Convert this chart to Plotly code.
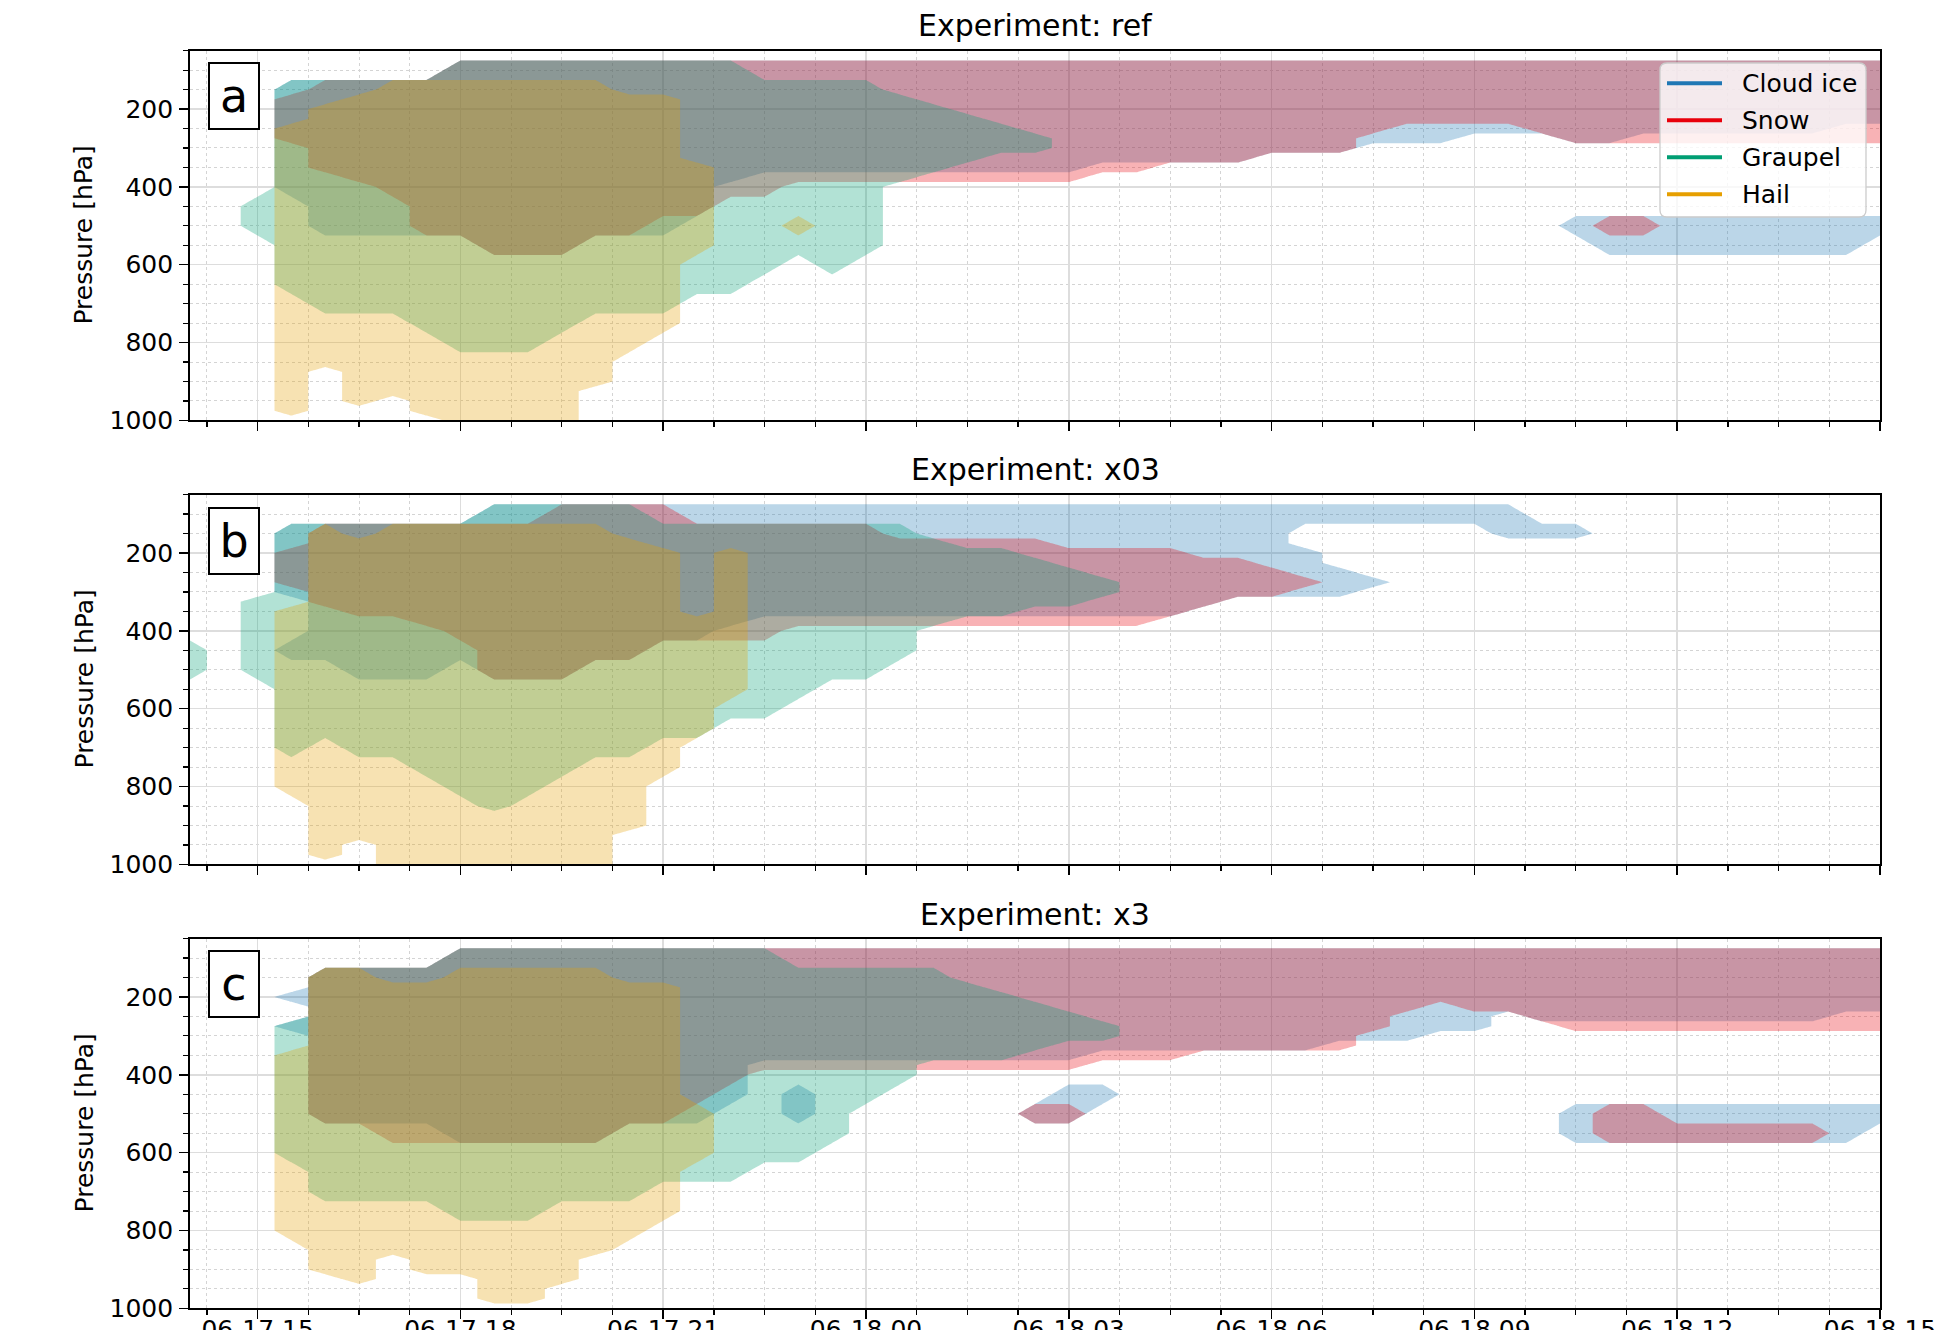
import datetime as dt
import plotly.graph_objects as go

# Target picture: 1939 x 1330. The photographed page maps a 1346 px tall figure onto the
# 1330 px picture, so the figure is 1346 px tall and every position below is given in
# picture pixels (paper fractions are taken relative to REF_H).
W, REF_H, FIG_H = 1939, 1330, 1346
FONT = "DejaVu Sans"
N = None

# ---------------- grid ----------------
TIMES = ["2021-06-17 14:00", "2021-06-17 14:30", "2021-06-17 15:00", "2021-06-17 15:30", "2021-06-17 16:00",
         "2021-06-17 16:30", "2021-06-17 17:00", "2021-06-17 17:30", "2021-06-17 18:00", "2021-06-17 18:30",
         "2021-06-17 19:00", "2021-06-17 19:30", "2021-06-17 20:00", "2021-06-17 20:30", "2021-06-17 21:00",
         "2021-06-17 21:30", "2021-06-17 22:00", "2021-06-17 22:30", "2021-06-17 23:00", "2021-06-17 23:30",
         "2021-06-18 00:00", "2021-06-18 00:30", "2021-06-18 01:00", "2021-06-18 01:30", "2021-06-18 02:00",
         "2021-06-18 02:30", "2021-06-18 03:00", "2021-06-18 03:30", "2021-06-18 04:00", "2021-06-18 04:30",
         "2021-06-18 05:00", "2021-06-18 05:30", "2021-06-18 06:00", "2021-06-18 06:30", "2021-06-18 07:00",
         "2021-06-18 07:30", "2021-06-18 08:00", "2021-06-18 08:30", "2021-06-18 09:00", "2021-06-18 09:30",
         "2021-06-18 10:00", "2021-06-18 10:30", "2021-06-18 11:00", "2021-06-18 11:30", "2021-06-18 12:00",
         "2021-06-18 12:30", "2021-06-18 13:00", "2021-06-18 13:30", "2021-06-18 14:00", "2021-06-18 14:30",
         "2021-06-18 15:00"]
LEVELS = [50, 100, 150, 175, 200, 225, 250, 275, 300, 325, 350, 375, 400, 450, 500, 550, 600, 650,
          700, 750, 800, 850, 875, 900, 925, 950, 975, 1000]
TICK_TIMES = ["2021-06-17 15:00", "2021-06-17 18:00", "2021-06-17 21:00", "2021-06-18 00:00",
              "2021-06-18 03:00", "2021-06-18 06:00", "2021-06-18 09:00", "2021-06-18 12:00",
              "2021-06-18 15:00"]
TICK_LABELS = ["06-17 15", "06-17 18", "06-17 21", "06-18 00", "06-18 03", "06-18 06", "06-18 09",
               "06-18 12", "06-18 15"]

# ---------------- Experiment: ref ----------------
ref_ice_top = [N, N, N, 150, 150, 150, 150, 150, 100, 100,
               100, 100, 100, 100, 100, 100, 100, 100, 100, 100,
               100, 100, 100, 100, 100, 100, 100, 100, 100, 100,
               100, 100, 100, 100, 100, 100, 100, 100, 100, 100,
               100, 100, 100, 100, 100, 100, 100, 100, 100, 100, 100]
ref_ice_base = [N, N, N, 400, 500, 500, 500, 500, 500, 550,
                550, 550, 500, 500, 500, 450, 375, 350, 350, 350,
                350, 350, 350, 350, 350, 350, 350, 325, 325, 325,
                325, 325, 300, 300, 300, 275, 275, 275, 250, 250,
                250, 275, 275, 250, 250, 250, 250, 250, 250, 225, 225]
ref_ice_extra = [(41, 500, 500), (42, 500, 550), (43, 500, 550), (44, 500, 550), (45, 500, 550),
                 (46, 500, 550), (47, 500, 550), (48, 500, 550), (49, 500, 550), (50, 500, 500)]
ref_snow_top = [N, N, N, 175, 150, 150, 150, 150, 100, 100,
                100, 100, 100, 100, 100, 100, 100, 100, 100, 100,
                100, 100, 100, 100, 100, 100, 100, 100, 100, 100,
                100, 100, 100, 100, 100, 100, 100, 100, 100, 100,
                100, 100, 100, 100, 100, 100, 100, 100, 100, 100, 100]
ref_snow_base = [N, N, N, 275, 350, 375, 400, 500, 500, 550,
                 550, 550, 500, 500, 450, 450, 400, 400, 375, 375,
                 375, 375, 375, 375, 375, 375, 375, 350, 350, 325,
                 325, 325, 300, 300, 300, 250, 225, 225, 225, 225,
                 250, 275, 275, 275, 275, 275, 275, 275, 275, 275, 275]
ref_snow_extra = [(42, 500, 500), (43, 500, 500)]
ref_graupel_top = [N, N, 450, 150, 150, 150, 150, 150, 100, 100,
                   100, 100, 100, 100, 100, 100, 100, 150, 150, 150,
                   150, 175, 200, 225, 250, 275, N, N, N, N,
                   N, N, N, N, N, N, N, N, N, N,
                   N, N, N, N, N, N, N, N, N, N, N]
ref_graupel_base = [N, N, 500, 650, 700, 700, 700, 750, 800, 800,
                    800, 750, 700, 700, 700, 650, 650, 600, 550, 600,
                    550, 375, 350, 325, 300, 300, N, N, N, N,
                    N, N, N, N, N, N, N, N, N, N,
                    N, N, N, N, N, N, N, N, N, N, N]
ref_graupel_extra = []
ref_hail_top = [N, N, N, 250, 200, 175, 150, 150, 150, 150,
                150, 150, 150, 175, 175, 350, N, N, N, N,
                N, N, N, N, N, N, N, N, N, N,
                N, N, N, N, N, N, N, N, N, N,
                N, N, N, N, N, N, N, N, N, N, N]
ref_hail_base = [N, N, N, 975, 850, 950, 925, 975, 1000, 1000,
                 1000, 1000, 900, 800, 750, 550, N, N, N, N,
                 N, N, N, N, N, N, N, N, N, N,
                 N, N, N, N, N, N, N, N, N, N,
                 N, N, N, N, N, N, N, N, N, N, N]
ref_hail_extra = [(18, 500, 500)]

# ---------------- Experiment: x03 ----------------
x03_ice_top = [N, N, N, 150, 150, 150, 150, 150, 150, 100,
               100, 100, 100, 100, 100, 100, 100, 100, 100, 100,
               100, 100, 100, 100, 100, 100, 100, 100, 100, 100,
               100, 100, 100, 100, 100, 100, 100, 100, 100, 100,
               150, 150, N, N, N, N, N, N, N, N, N]
x03_ice_base = [N, N, N, 300, 450, 500, 500, 500, 450, 500,
                500, 500, 450, 450, 400, 400, 375, 350, 350, 350,
                350, 350, 350, 350, 350, 350, 350, 350, 350, 350,
                325, 300, 300, 100, 100, 100, 100, 100, 100, 150,
                150, 150, N, N, N, N, N, N, N, N, N]
x03_ice_extra = [(3, 450, 450), (33, 200, 300), (34, 250, 300), (35, 275, 275)]
x03_snow_top = [N, N, N, 200, 150, 150, 150, 150, 150, 150,
                150, 100, 100, 100, 100, 150, 150, 150, 150, 150,
                150, 175, 175, 175, 175, 175, 200, 200, 200, 200,
                225, 225, 250, 275, N, N, N, N, N, N,
                N, N, N, N, N, N, N, N, N, N, N]
x03_snow_base = [N, N, N, 275, 325, 350, 350, 375, 400, 500,
                 500, 500, 450, 450, 400, 400, 400, 400, 375, 375,
                 375, 375, 375, 375, 375, 375, 375, 375, 375, 350,
                 325, 300, 300, 275, N, N, N, N, N, N,
                 N, N, N, N, N, N, N, N, N, N, N]
x03_snow_extra = []
x03_graupel_top = [450, N, 325, 150, 150, 150, 150, 150, 150, 100,
                   100, 100, 100, 100, 150, 150, 150, 150, 150, 150,
                   150, 150, 175, 200, 200, 225, 250, 275, N, N,
                   N, N, N, N, N, N, N, N, N, N,
                   N, N, N, N, N, N, N, N, N, N, N]
x03_graupel_base = [500, N, 500, 700, 650, 700, 700, 750, 800, 850,
                    800, 750, 700, 700, 650, 650, 600, 600, 550, 500,
                    500, 450, 375, 350, 350, 325, 325, 300, N, N,
                    N, N, N, N, N, N, N, N, N, N,
                    N, N, N, N, N, N, N, N, N, N, N]
x03_graupel_extra = []
x03_hail_top = [N, N, N, 350, 150, 175, 150, 150, 150, 150,
                150, 150, 150, 175, 200, 375, 200, N, N, N,
                N, N, N, N, N, N, N, N, N, N,
                N, N, N, N, N, N, N, N, N, N,
                N, N, N, N, N, N, N, N, N, N, N]
x03_hail_base = [N, N, N, 800, 975, 925, 1000, 1000, 1000, 1000,
                 1000, 1000, 1000, 900, 750, 650, 550, N, N, N,
                 N, N, N, N, N, N, N, N, N, N,
                 N, N, N, N, N, N, N, N, N, N,
                 N, N, N, N, N, N, N, N, N, N, N]
x03_hail_extra = []

# ---------------- Experiment: x3 ----------------
x3_ice_top = [N, N, N, 200, 150, 150, 150, 150, 100, 100,
              100, 100, 100, 100, 100, 100, 100, 100, 100, 100,
              100, 100, 100, 100, 100, 100, 100, 100, 100, 100,
              100, 100, 100, 100, 100, 100, 100, 100, 100, 100,
              100, 100, 100, 100, 100, 100, 100, 100, 100, 100, 100]
x3_ice_base = [N, N, N, 200, 500, 500, 500, 500, 550, 550,
               550, 550, 550, 500, 500, 500, 450, 350, 350, 350,
               350, 350, 350, 350, 350, 350, 350, 325, 325, 325,
               325, 325, 325, 325, 300, 300, 300, 275, 275, 225,
               250, 250, 250, 250, 250, 250, 250, 250, 250, 225, 225]
x3_ice_extra = [(3, 275, 275), (18, 450, 500), (25, 500, 500), (26, 450, 500), (27, 450, 450),
                (41, 500, 550), (42, 500, 550), (43, 500, 550), (44, 500, 550), (45, 500, 550),
                (46, 500, 550), (47, 500, 550), (48, 500, 550), (49, 500, 550), (50, 500, 500)]
x3_snow_top = [N, N, N, N, 150, 150, 150, 150, 100, 100,
               100, 100, 100, 100, 100, 100, 100, 100, 100, 100,
               100, 100, 100, 100, 100, 100, 100, 100, 100, 100,
               100, 100, 100, 100, 100, 100, 100, 100, 100, 100,
               100, 100, 100, 100, 100, 100, 100, 100, 100, 100, 100]
x3_snow_base = [N, N, N, N, 500, 500, 550, 550, 550, 550,
                550, 550, 550, 500, 500, 450, 400, 375, 375, 375,
                375, 375, 375, 375, 375, 375, 375, 350, 350, 350,
                325, 325, 325, 325, 325, 275, 225, 200, 225, 225,
                250, 275, 275, 275, 275, 275, 275, 275, 275, 275, 275]
x3_snow_extra = [(25, 500, 500), (26, 500, 500), (42, 500, 550), (43, 500, 550), (44, 550, 550),
                 (45, 550, 550), (46, 550, 550), (47, 550, 550), (48, 550, 550)]
x3_graupel_top = [N, N, N, 275, 150, 150, 150, 150, 100, 100,
                  100, 100, 100, 100, 100, 100, 100, 100, 150, 150,
                  150, 150, 150, 175, 200, 225, 250, 275, N, N,
                  N, N, N, N, N, N, N, N, N, N,
                  N, N, N, N, N, N, N, N, N, N, N]
x3_graupel_base = [N, N, N, 600, 700, 700, 700, 700, 750, 750,
                   750, 700, 700, 700, 650, 650, 650, 600, 600, 550,
                   450, 400, 350, 350, 350, 325, 300, 300, N, N,
                   N, N, N, N, N, N, N, N, N, N,
                   N, N, N, N, N, N, N, N, N, N, N]
x3_graupel_extra = []
x3_hail_top = [N, N, N, 350, 150, 150, 175, 175, 150, 150,
               150, 150, 150, 175, 175, 500, N, N, N, N,
               N, N, N, N, N, N, N, N, N, N,
               N, N, N, N, N, N, N, N, N, N,
               N, N, N, N, N, N, N, N, N, N, N]
x3_hail_base = [N, N, N, 800, 900, 925, 850, 900, 900, 975,
                975, 925, 850, 800, 750, 600, N, N, N, N,
                N, N, N, N, N, N, N, N, N, N,
                N, N, N, N, N, N, N, N, N, N,
                N, N, N, N, N, N, N, N, N, N, N]
x3_hail_extra = []

SPECIES = ["Cloud ice", "Snow", "Graupel", "Hail"]
COLORS = {"Cloud ice": (31, 119, 180), "Snow": (232, 0, 11), "Graupel": (0, 158, 115), "Hail": (230, 159, 0)}
ALPHA = 0.3

EXPERIMENTS = [
    ("ref", {"Cloud ice": (ref_ice_top, ref_ice_base, ref_ice_extra),
             "Snow": (ref_snow_top, ref_snow_base, ref_snow_extra),
             "Graupel": (ref_graupel_top, ref_graupel_base, ref_graupel_extra),
             "Hail": (ref_hail_top, ref_hail_base, ref_hail_extra)}),
    ("x03", {"Cloud ice": (x03_ice_top, x03_ice_base, x03_ice_extra),
             "Snow": (x03_snow_top, x03_snow_base, x03_snow_extra),
             "Graupel": (x03_graupel_top, x03_graupel_base, x03_graupel_extra),
             "Hail": (x03_hail_top, x03_hail_base, x03_hail_extra)}),
    ("x3", {"Cloud ice": (x3_ice_top, x3_ice_base, x3_ice_extra),
            "Snow": (x3_snow_top, x3_snow_base, x3_snow_extra),
            "Graupel": (x3_graupel_top, x3_graupel_base, x3_graupel_extra),
            "Hail": (x3_hail_top, x3_hail_base, x3_hail_extra)}),
]
PANEL_LETTERS = ["a", "b", "c"]


def build_mask(tops, bases, extra):
    z = [[0] * len(TIMES) for _ in LEVELS]
    layers = [(k, t, b) for k, (t, b) in enumerate(zip(tops, bases)) if t is not None]
    layers += list(extra)
    for k, t, b in layers:
        for j, p in enumerate(LEVELS):
            if t <= p <= b:
                z[j][k] = 1
    return z


def px(x):
    return x / W


def py(y):
    return 1 - y / REF_H


# ---------------- layout geometry (picture pixels) ----------------
X_LEFT, X_RIGHT = 190, 1880
PANELS_PX = [(50.7, 420.4), (494.6, 864.4), (938.6, 1308.3)]
TITLE_Y = [25, 470, 914]
BOX_TOP = [62, 507, 950]
T0 = dt.datetime(2021, 6, 17, 14, 0)
T1 = dt.datetime(2021, 6, 18, 15, 0)

fig = go.Figure()
annotations = []
shapes = []
layout_axes = {}

for i, (name, data) in enumerate(EXPERIMENTS):
    sfx = "" if i == 0 else str(i + 1)
    xa, ya = "x" + sfx, "y" + sfx
    for sp in SPECIES:
        tops, bases, extra = data[sp]
        r, g, b = COLORS[sp]
        # constraint contours shade the region violating the constraint -> '<' shades mask > 0.5
        fig.add_trace(go.Contour(
            x=TIMES, y=LEVELS, z=build_mask(tops, bases, extra),
            contours=dict(type="constraint", operation="<", value=0.5),
            fillcolor=f"rgba({r},{g},{b},{ALPHA})",
            line=dict(width=0, smoothing=0, color="rgba(0,0,0,0)"),
            showscale=False, hoverinfo="skip", showlegend=False,
            xaxis=xa, yaxis=ya))

    top_px, bot_px = PANELS_PX[i]
    dom_y = [py(bot_px), py(top_px)]
    layout_axes["xaxis" + sfx] = dict(
        domain=[px(X_LEFT), px(X_RIGHT)], anchor=ya, type="date",
        range=[T0.strftime("%Y-%m-%d %H:%M"), T1.strftime("%Y-%m-%d %H:%M")],
        tick0="2021-06-17 15:00", dtick=3 * 3600 * 1000, tickformat="%m-%d %H",
        showticklabels=False, ticks="outside", ticklen=9, tickwidth=1.5, tickcolor="black",
        showline=True, linecolor="black", linewidth=1.8, mirror=True,
        showgrid=True, gridcolor="#dddddd", gridwidth=1.5, zeroline=False,
        minor=dict(tick0="2021-06-17 14:15", dtick=45 * 60 * 1000, ticks="outside", ticklen=5,
                   tickwidth=1.2, tickcolor="black", showgrid=True, gridcolor="#d4d4d4",
                   griddash="dot", gridwidth=1),
        matches="x" if i > 0 else None)
    layout_axes["yaxis" + sfx] = dict(
        domain=dom_y, anchor=xa, range=[1000, 50],
        tick0=0, dtick=200, ticks="outside", ticklen=9, tickwidth=1.5, tickcolor="black",
        tickfont=dict(family=FONT, size=25, color="black"), ticklabelstandoff=1,
        showline=True, linecolor="black", linewidth=1.8, mirror=True,
        showgrid=True, gridcolor="#dddddd", gridwidth=1.5, zeroline=False,
        minor=dict(tick0=0, dtick=50, ticks="outside", ticklen=5, tickwidth=1.2, tickcolor="black",
                   showgrid=True, gridcolor="#d4d4d4", griddash="dot", gridwidth=1))

    annotations.append(dict(text=f"Experiment: {name}", x=px((X_LEFT + X_RIGHT) / 2), y=py(TITLE_Y[i]),
                            xref="paper", yref="paper", xanchor="center", yanchor="middle", showarrow=False,
                            font=dict(family=FONT, size=30, color="black")))
    annotations.append(dict(text="Pressure [hPa]", x=px(84), y=py((top_px + bot_px) / 2),
                            xref="paper", yref="paper", xanchor="center", yanchor="middle", showarrow=False,
                            textangle=-90, font=dict(family=FONT, size=25, color="black")))
    annotations.append(dict(text=PANEL_LETTERS[i], x=px(208), y=py(BOX_TOP[i]),
                            xref="paper", yref="paper", xanchor="left", yanchor="top", showarrow=False,
                            width=48, height=64, borderpad=0, bordercolor="black", borderwidth=2,
                            bgcolor="white", align="center", valign="middle",
                            font=dict(family=FONT, size=46, color="black")))

# ---------------- bottom time labels: text in a clipped strip subplot at the picture bottom,
# cut by the lower edge as in the reference ----------------
sec_per_px = (T1 - T0).total_seconds() / (X_RIGHT - X_LEFT)
strip_t0 = T0 - dt.timedelta(seconds=sec_per_px * X_LEFT)
strip_t1 = T1 + dt.timedelta(seconds=sec_per_px * (W - X_RIGHT))
fig.add_trace(go.Scatter(x=TICK_TIMES, y=[1331.5] * len(TICK_TIMES), mode="text", text=TICK_LABELS,
                         textposition="middle center", cliponaxis=True, hoverinfo="skip", showlegend=False,
                         textfont=dict(family=FONT, size=25, color="black"), xaxis="x4", yaxis="y4"))
layout_axes["xaxis4"] = dict(domain=[0, 1], anchor="y4", type="date", visible=False, fixedrange=True,
                             range=[strip_t0.strftime("%Y-%m-%d %H:%M:%S"), strip_t1.strftime("%Y-%m-%d %H:%M:%S")])
layout_axes["yaxis4"] = dict(domain=[0, py(1317)], anchor="x4", visible=False, fixedrange=True,
                             range=[REF_H, 1317])

# ---------------- legend (drawn as box + line samples + text) ----------------
LX0, LX1, LY0, LY1, RAD = 1660, 1866, 63, 217, 7
legend_path = (f"M {px(LX0 + RAD)},{py(LY0)} L {px(LX1 - RAD)},{py(LY0)} "
               f"Q {px(LX1)},{py(LY0)} {px(LX1)},{py(LY0 + RAD)} L {px(LX1)},{py(LY1 - RAD)} "
               f"Q {px(LX1)},{py(LY1)} {px(LX1 - RAD)},{py(LY1)} L {px(LX0 + RAD)},{py(LY1)} "
               f"Q {px(LX0)},{py(LY1)} {px(LX0)},{py(LY1 - RAD)} L {px(LX0)},{py(LY0 + RAD)} "
               f"Q {px(LX0)},{py(LY0)} {px(LX0 + RAD)},{py(LY0)} Z")
shapes.append(dict(type="path", path=legend_path, xref="paper", yref="paper", layer="above",
                   fillcolor="rgba(255,255,255,0.8)", line=dict(color="#cccccc", width=1.3)))
ROW_Y = [83.3, 120.3, 157.3, 194.3]
for sp, yy in zip(SPECIES, ROW_Y):
    r, g, b = COLORS[sp]
    shapes.append(dict(type="line", xref="paper", yref="paper", layer="above",
                       x0=px(1667), x1=px(1722), y0=py(yy), y1=py(yy),
                       line=dict(color=f"rgb({r},{g},{b})", width=4)))
    annotations.append(dict(text=sp, x=px(1740), y=py(yy), xref="paper", yref="paper",
                            xanchor="left", yanchor="middle", showarrow=False,
                            font=dict(family=FONT, size=25, color="black")))

fig.update_layout(
    width=W, height=FIG_H, margin=dict(l=0, r=0, t=0, b=FIG_H - REF_H), autosize=False,
    paper_bgcolor="white", plot_bgcolor="rgba(0,0,0,0)", showlegend=False,
    font=dict(family=FONT, color="black"),
    annotations=annotations, shapes=shapes,
    **layout_axes)

fig.write_html("out.html", config={"staticPlot": True, "displayModeBar": False})
